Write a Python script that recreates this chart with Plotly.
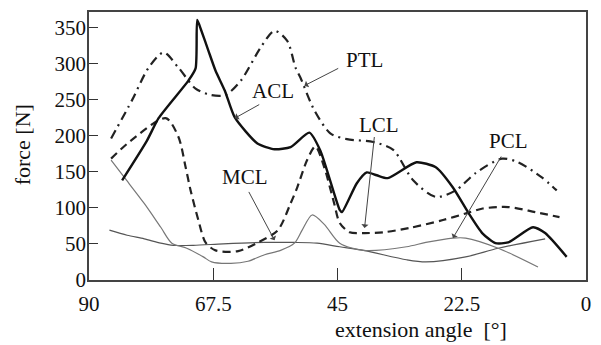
import plotly.graph_objects as go

# ---- data (extension angle in degrees, force in N) ----
acl_x = [84.0, 79.5, 77.4, 72.0, 70.7, 70.4, 69.65, 68.4, 67.1, 65.4, 63.6, 59.5, 56.4, 53.5, 50.1, 48.1,
         44.6, 44.2, 41.5, 39.7, 37.9, 35.9, 30.7, 27.2, 24.1, 21.3, 18.8, 16.4, 14.1, 9.6, 7.4, 3.5]
acl_y = [138, 193, 224, 276, 293, 360, 345, 318, 290, 262, 225, 189, 181, 184, 204, 179,
         97, 94, 134, 149, 145, 141, 163, 156, 128, 93, 65, 51, 52, 73, 65, 32]

ptl_x = [86.0, 82.2, 79.2, 76.5, 73.8, 70.7, 67.9, 65.3, 62.5, 58.9, 56.4, 54.1, 52.6, 51.7, 49.2, 46.3,
         43.3, 38.5, 34.9, 31.3, 27.2, 23.6, 20.0, 15.2, 12.3, 8.0, 5.3]
ptl_y = [196, 249, 294, 315, 294, 265, 256, 256, 276, 322, 345, 331, 294, 280, 235, 203,
         195, 191, 180, 138, 115, 124, 148, 168, 163, 142, 124]

lcl_x = [86.0, 82.4, 76.1, 73.8, 72.5, 71.6, 70.2, 68.9, 67.1, 63.0, 59.4, 55.8, 53.5, 52.3, 50.5, 49.0,
         47.4, 45.6, 44.6, 42.8, 40.3, 36.7, 32.0, 25.9, 21.4, 18.7, 14.1, 9.2, 4.8]
lcl_y = [168, 193, 224, 198, 156, 124, 83, 52, 41, 40, 52, 69, 106, 128, 166, 185,
         156, 106, 79, 66, 65, 66, 72, 83, 93, 99, 101, 94, 87]

mcl_x = [86.3, 83.1, 80.0, 77.0, 74.7, 71.1, 65.7, 58.2, 52.8, 48.7, 44.6, 40.3, 32.5, 29.0, 21.8, 15.9, 7.4]
mcl_y = [69, 62, 57, 51, 48, 48, 50, 52, 52, 51, 46, 41, 28, 25, 32, 44, 57]

pcl_x = [86.0, 83.6, 80.0, 77.0, 75.0, 72.3, 69.3, 67.8, 64.3, 61.2, 58.2, 55.3, 52.8, 51.4, 49.6, 47.4,
         44.6, 40.3, 32.5, 29.0, 24.1, 21.8, 15.9, 8.7]
pcl_y = [166, 142, 106, 73, 51, 44, 32, 25, 23, 26, 35, 41, 51, 69, 90, 77,
         51, 41, 46, 52, 58, 58, 44, 18]

x_ticks = [90, 67.5, 45, 22.5, 0]
x_tick_text = ["90", "67.5", "45", "22.5", "0"]
y_ticks = [0, 50, 100, 150, 200, 250, 300, 350]

x_title = "extension angle  [°]"
y_title = "force [N]"

# label: (text, label x, label y, arrow tail x, tail y, tip x, tip y)
labels = [
    ("PTL", 40.1, 305, 44.6, 294, 51.0, 269),
    ("ACL", 56.6, 261, 58.9, 244, 63.6, 224),
    ("LCL", 37.4, 215, 38.3, 200, 40.1, 72),
    ("MCL", 61.8, 142, 61.2, 124, 56.4, 55),
    ("PCL", 14.1, 193, 15.2, 173, 24.1, 58),
]

SERIF = "Liberation Serif, Times New Roman, serif"

fig = go.Figure()
fig.add_trace(go.Scatter(x=mcl_x, y=mcl_y, mode="lines", name="MCL",
                         line=dict(color="#555", width=1.2, shape="spline", smoothing=0.8)))
fig.add_trace(go.Scatter(x=pcl_x, y=pcl_y, mode="lines", name="PCL",
                         line=dict(color="#777", width=1.2, shape="spline", smoothing=0.8)))
fig.add_trace(go.Scatter(x=lcl_x, y=lcl_y, mode="lines", name="LCL",
                         line=dict(color="#222", width=2.2, dash="8px,5px", shape="spline", smoothing=0.8)))
fig.add_trace(go.Scatter(x=ptl_x, y=ptl_y, mode="lines", name="PTL",
                         line=dict(color="#222", width=2.2, dash="9px,5px,2px,5px", shape="spline", smoothing=0.8)))
fig.add_trace(go.Scatter(x=acl_x, y=acl_y, mode="lines", name="ACL",
                         line=dict(color="#111", width=2.4, shape="spline", smoothing=0.6)))

for text, lx, ly, tx, ty, hx, hy in labels:
    fig.add_annotation(x=lx, y=ly, text=text, showarrow=False,
                       font=dict(family=SERIF, size=21, color="#111"))
    fig.add_annotation(x=hx, y=hy, ax=tx, ay=ty, axref="x", ayref="y", text="",
                       showarrow=True, arrowhead=1, arrowsize=1.2, arrowwidth=1, arrowcolor="#444")

# axis titles
fig.add_annotation(xref="paper", yref="paper", x=0.668, y=-0.184, text=x_title, showarrow=False,
                   xanchor="center", yanchor="middle",
                   font=dict(family=SERIF, size=22, color="#111"))
fig.add_annotation(xref="paper", yref="paper", x=-0.1335, y=0.505, text=y_title, showarrow=False,
                   xanchor="center", yanchor="middle",
                   textangle=-90, font=dict(family=SERIF, size=22, color="#111"))

fig.update_layout(
    width=601, height=345,
    margin=dict(l=89, r=10, t=12, b=65),
    paper_bgcolor="white", plot_bgcolor="white",
    showlegend=False,
    font=dict(family=SERIF, size=21, color="#111"),
)
fig.update_xaxes(range=[90, 0], tickvals=x_ticks, ticktext=x_tick_text,
                 ticks="inside", ticklen=12, tickcolor="#333", ticklabelstandoff=4,
                 showgrid=False, zeroline=False, showline=True, mirror=True,
                 linecolor="#444", linewidth=1.5)
fig.update_yaxes(range=[0, 371], tickvals=y_ticks,
                 ticks="inside", ticklen=9, tickcolor="#333", ticklabelstandoff=-3,
                 showgrid=False, zeroline=False, showline=True, mirror=True,
                 linecolor="#444", linewidth=1.5)

fig.write_html("out.html")
